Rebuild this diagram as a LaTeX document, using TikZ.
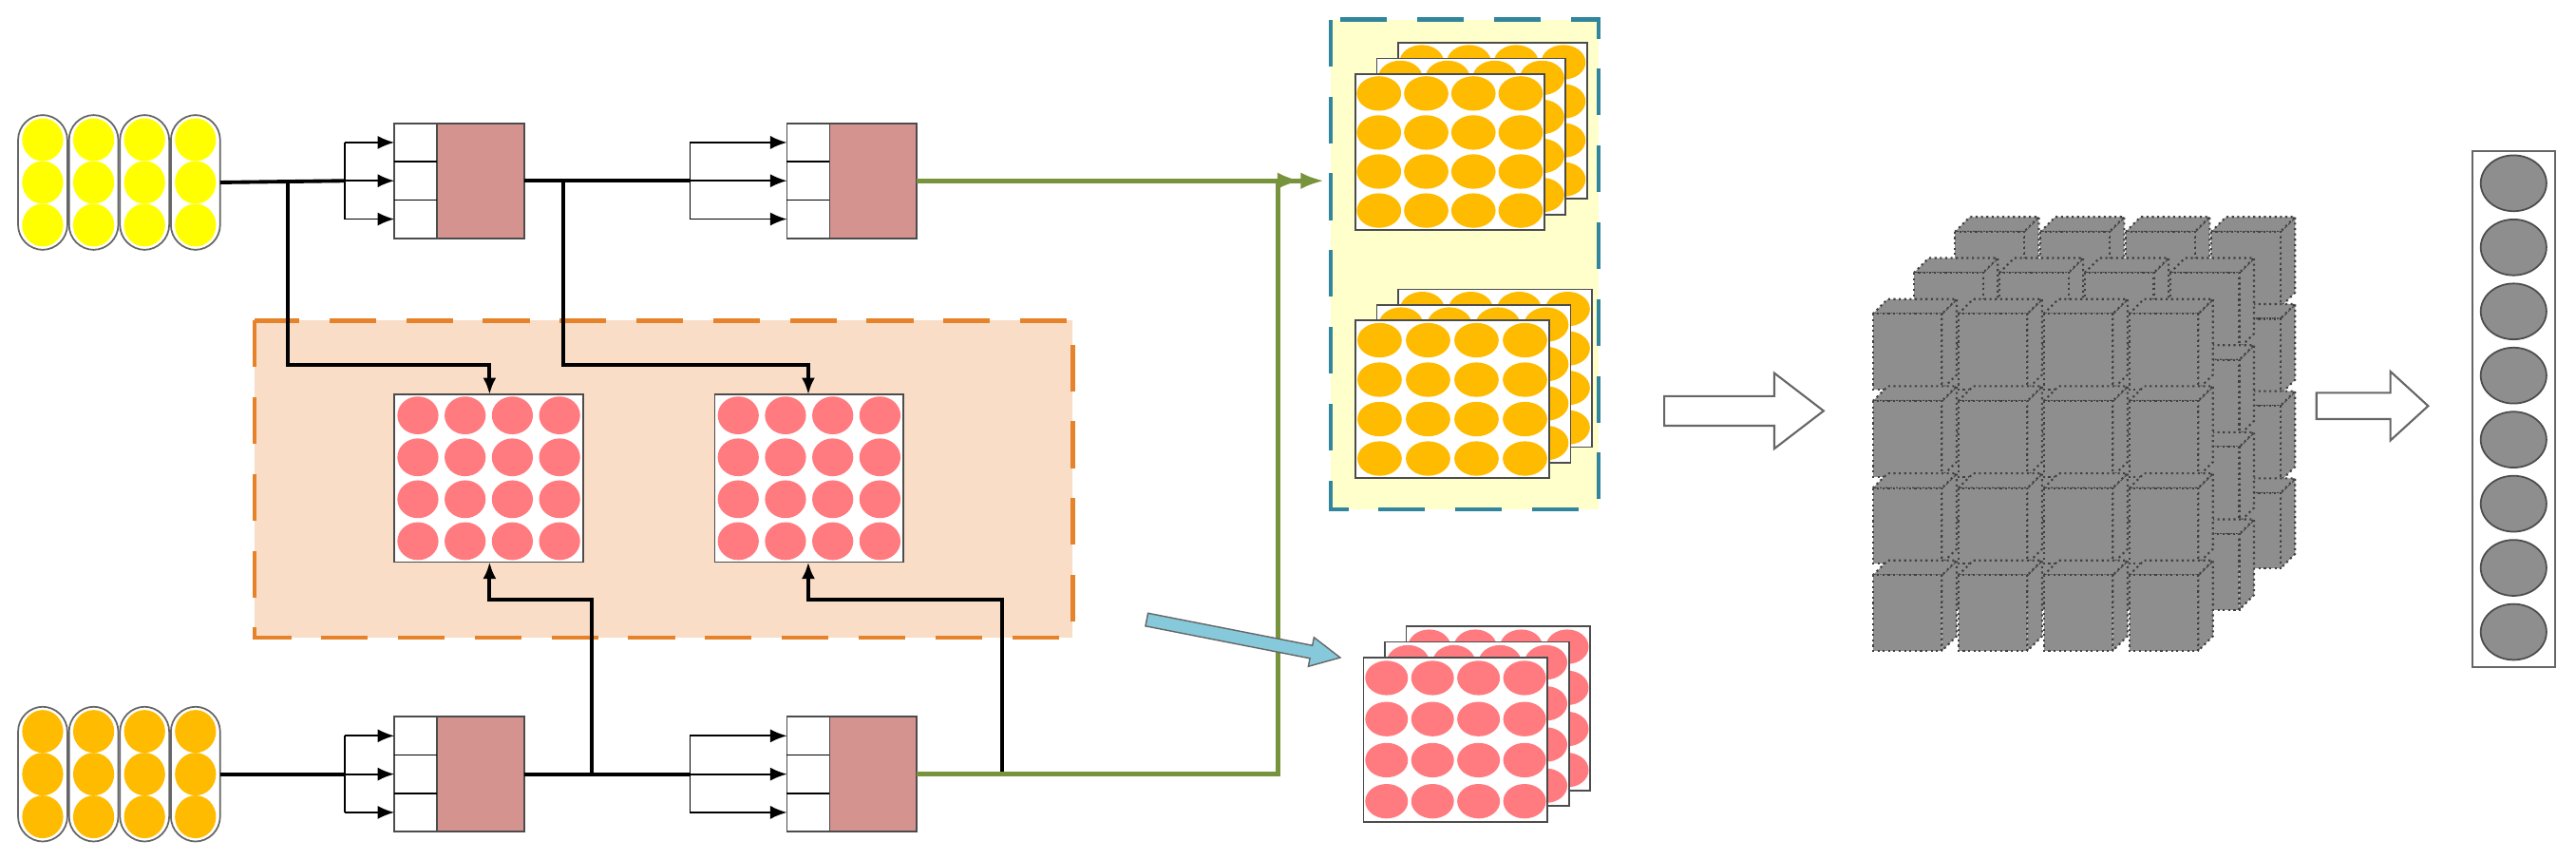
\documentclass[tikz,border=0pt]{standalone}
\usetikzlibrary{arrows.meta}
\definecolor{pinkb}{HTML}{D4938F}
\definecolor{ylw}{HTML}{FFFF00}
\definecolor{org}{HTML}{FFBB00}
\definecolor{rd}{HTML}{FF7B80}
\definecolor{grn}{HTML}{77933C}
\definecolor{orfill}{HTML}{F9DDC7}
\definecolor{ordash}{HTML}{E6832A}
\definecolor{yfill}{HTML}{FFFFCC}
\definecolor{teal}{HTML}{31859C}
\definecolor{cgray}{HTML}{8E8E8E}
\definecolor{bluea}{HTML}{86C9DA}
\tikzset{
  thinl/.style={line width=0.5pt, draw=black},
  main/.style={line width=1.1pt, draw=black},
  tip/.style={-{Latex[length=5pt,width=4pt]}},
  gline/.style={line width=1.3pt, draw=grn},
  cell/.style={draw=black!70, line width=0.5pt, fill=white},
}
% capsule group: left x, top y, colour
\newcommand\capgrp[3]{%
  \foreach \i in {0,...,3}{%
    \draw[draw=black!60, line width=0.5pt, fill=white, rounded corners=7.5pt] (#1+\i*31,#2) rectangle ++(30,82);
    \foreach \j in {0,1,2}{\fill[#3] (#1+15+\i*31,#2+15+\j*26) ellipse (12.5 and 13);}
  }}
% processing block: name, left x, top y, fork x, input x
\newcommand\blk[5]{%
  \draw[cell] (#2,#3) rectangle ++(26,70);
  \draw[cell, fill=pinkb] (#2+26,#3) rectangle ++(53,70);
  \draw[thinl] (#2,#3+23.3) -- ++(26,0) (#2,#3+46.7) -- ++(26,0);
  \coordinate (#1-out) at (#2+79,#3+35);
  \coordinate (#1-fork) at (#4,#3+35);
  \draw[thinl] (#4,#3+11.7) -- (#4,#3+58.3);
  \foreach \k in {11.7,35,58.3}{\draw[thinl,tip] (#4,#3+\k) -- (#2,#3+\k);}
}
% ellipse grid: x,y,w,h,colour,rx,ry
\newcommand\egrid[7]{%
  \draw[cell] (#1,#2) rectangle ++(#3,#4);
  \foreach \i in {0,...,3}{\foreach \j in {0,...,3}{%
    \fill[#5] (#1+#3*\i/4+#3/8,#2+#4*\j/4+#4/8) ellipse (#6 and #7);}}
}
\newcommand\estack[7]{%
  \egrid{#1+26}{#2-19}{#3}{#4}{#5}{#6}{#7}
  \egrid{#1+13}{#2-9.5}{#3}{#4}{#5}{#6}{#7}
  \egrid{#1}{#2}{#3}{#4}{#5}{#6}{#7}
}
% cube: x,y(top-left of front face)
\newcommand\cube[2]{%
  \filldraw[fill=cgray, draw=black!75, densely dotted, line width=0.6pt]
    (#1+42,#2) -- ++(9,-9) -- ++(0,46) -- ++(-9,9) -- cycle;
  \filldraw[fill=cgray, draw=black!75, densely dotted, line width=0.6pt]
    (#1,#2) -- ++(9,-9) -- ++(42,0) -- ++(-9,9) -- cycle;
  \filldraw[fill=cgray, draw=black!75, densely dotted, line width=0.6pt]
    (#1,#2) rectangle ++(42,46);
}
\begin{document}
\begin{tikzpicture}[x=0.017296cm, y=-0.017296cm]
\useasboundingbox (0,0) rectangle (1568,523);

% orange region
\draw[fill=orfill, draw=ordash, line width=1.3pt, dash pattern=on 14pt off 9pt] (155,195) rectangle (653,388);
% yellow region
\draw[fill=yfill, draw=teal, line width=1.3pt, dash pattern=on 14pt off 9pt] (810,12) rectangle (973,310);

% capsules
\capgrp{11}{70}{ylw}
\capgrp{11}{430}{org}
\coordinate (capA) at (134,111);
\coordinate (capB) at (134,471);

% blocks
\blk{b1}{240}{75}{210}{}
\blk{b2}{479}{75}{420}{}
\blk{b3}{240}{436}{210}{}
\blk{b4}{479}{436}{420}{}

% red grids
\egrid{240}{240}{115}{102}{rd}{12.5}{11.5}
\egrid{435}{240}{115}{102}{rd}{12.5}{11.5}
\coordinate (g1t) at (298,240); \coordinate (g1b) at (298,342);
\coordinate (g2t) at (492,240); \coordinate (g2b) at (492,342);

% horizontal flows
\draw[main] (capA) -- (b1-fork);
\draw[main] (b1-out) -- (b2-fork);
\draw[main] (capB) -- (b3-fork);
\draw[main] (b3-out) -- (b4-fork);

% branches to grids
\draw[main,tip] (175,111) |- (298,222) -- (g1t);
\draw[main,tip] (343,110) |- (492,222) -- (g2t);
\draw[main,tip] (360,471) |- (298,365) -- (g1b);
\draw[main,tip] (610,471) |- (492,365) -- (g2b);

% green outputs
\coordinate (gtgt) at (806,110);
\draw[gline, -{Latex[length=7pt,width=5pt]Latex[length=7pt,width=5pt]}] (b2-out) -- (gtgt);
\draw[gline] (b4-out) -- (778,471) -- (778,110);

% stacks
\estack{825}{45}{115}{95}{org}{13.5}{10.5}
\estack{825}{195}{118}{96}{org}{13.5}{10.5}
\estack{830}{400}{112}{100}{rd}{13}{10.5}

% blue arrow
\begin{scope}[shift={(698,377)}, rotate=-11.1]
\draw[fill=bluea, draw=black!60, line width=0.4pt] (0,-4)--(102,-4)--(102,-9)--(120,0)--(102,9)--(102,4)--(0,4)--cycle;
\end{scope}

% hollow arrows
\draw[fill=white, draw=black!60, line width=0.6pt] (1013,241)--(1080,241)--(1080,227)--(1110,250)--(1080,273)--(1080,259)--(1013,259)--cycle;
\draw[fill=white, draw=black!60, line width=0.6pt] (1410,239)--(1455,239)--(1455,226)--(1478,247)--(1455,268)--(1455,255)--(1410,255)--cycle;

% cube block
\foreach \L in {2,1,0}{
  \foreach \r in {0,...,3}{
    \foreach \c in {0,...,3}{
      \cube{1140+52*\c+25*\L}{191+53*\r-25*\L}
    }}}

% output column
\draw[draw=black!60, line width=0.6pt, fill=white] (1505,92) rectangle (1555,406);
\foreach \k in {0,...,7}{\filldraw[fill=cgray, draw=black!70, line width=0.5pt] (1530,111.5+39*\k) ellipse (20 and 17);}
\end{tikzpicture}
\end{document}
